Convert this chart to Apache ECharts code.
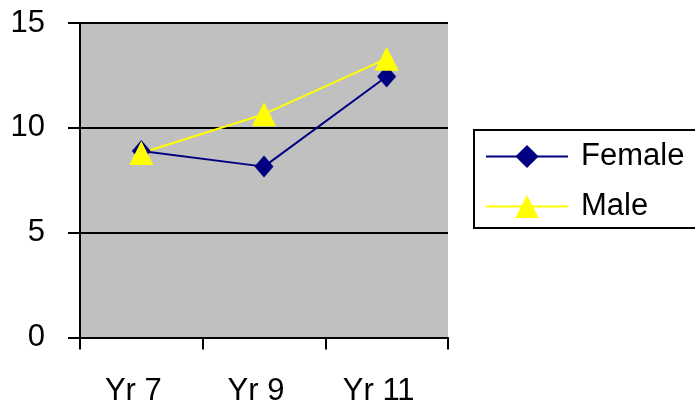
<!DOCTYPE html>
<html>
<head>
<meta charset="utf-8">
<script src="https://cdn.jsdelivr.net/npm/echarts@6/dist/echarts.min.js"></script>
<style>
  html, body { margin: 0; padding: 0; background: #ffffff; }
  #chart { width: 695px; height: 408px; }
</style>
</head>
<body>
<div id="chart"></div>
<script>
// School years on the category axis
const years = ['Yr 7', 'Yr 9', 'Yr 11'];
// Mean scores per year group
const female = [8.9, 8.15, 12.45];
const male = [8.8, 10.65, 13.3];
// Value axis range
const yMin = 0, yMax = 15, yStep = 5;

const FONT = '"Liberation Sans", Arial, sans-serif';

const chart = echarts.init(document.getElementById('chart'));
chart.setOption({
  animation: false,
  backgroundColor: '#ffffff',
  textStyle: { fontFamily: FONT },
  grid: {
    left: 80, right: 247, top: 23, bottom: 70.5,
    show: true, backgroundColor: '#c0c0c0', borderWidth: 0
  },
  xAxis: {
    type: 'category',
    data: years,
    boundaryGap: true,
    axisLine: { lineStyle: { color: '#000', width: 2 } },
    axisTick: { show: true, length: 12, lineStyle: { color: '#000', width: 2 } },
    axisLabel: {
      color: '#000', fontSize: 31, fontFamily: FONT, margin: 38,
      padding: [0, 16, 0, 0]
    },
    splitLine: { show: false }
  },
  yAxis: {
    type: 'value',
    min: yMin, max: yMax, interval: yStep,
    axisLine: { show: true, lineStyle: { color: '#000', width: 2 } },
    axisTick: { show: true, length: 12, lineStyle: { color: '#000', width: 2 } },
    axisLabel: { color: '#000', fontSize: 31, fontFamily: FONT, margin: 35 },
    splitLine: { show: true, lineStyle: { color: '#000', width: 2 } }
  },
  legend: {
    orient: 'vertical',
    left: 474, top: 130,
    padding: [11, 30, 6, 11],
    backgroundColor: '#ffffff',
    borderColor: '#000',
    borderWidth: 2,
    borderRadius: 0,
    itemWidth: 82,
    itemHeight: 29,
    itemGap: 19,
    textStyle: {
      color: '#000', fontSize: 31, fontFamily: FONT, lineHeight: 31,
      padding: [0, 0, 0, 8]
    },
    data: ['Female', 'Male']
  },
  series: [
    {
      name: 'Female',
      type: 'line',
      data: female,
      symbol: 'diamond',
      symbolSize: [19, 22],
      lineStyle: { color: '#000080', width: 2 },
      itemStyle: { color: '#000080' }
    },
    {
      name: 'Male',
      type: 'line',
      data: male,
      symbol: 'triangle',
      symbolSize: 24,
      lineStyle: { color: '#ffff00', width: 2 },
      itemStyle: { color: '#ffff00' }
    }
  ]
});
</script>
</body>
</html>
